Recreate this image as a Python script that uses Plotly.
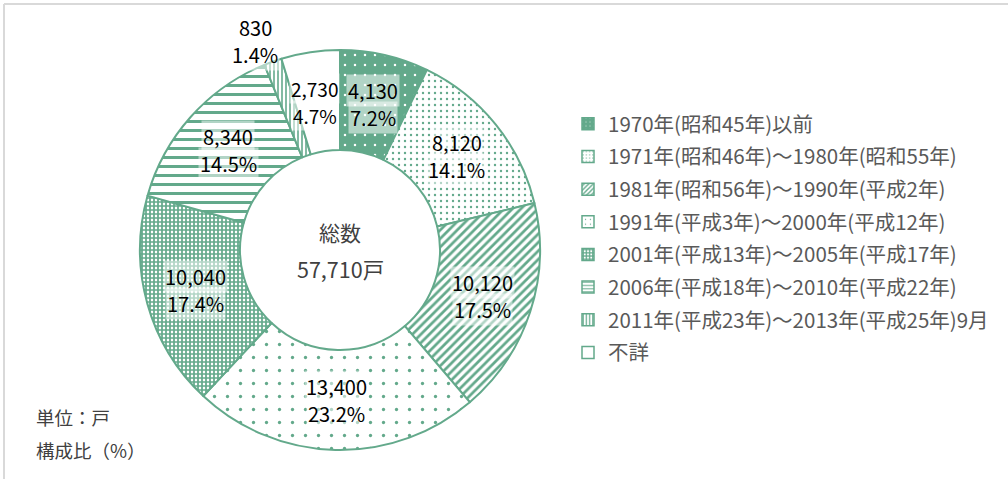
import math
import plotly.graph_objects as go

# ---- data ----
categories = [
    "1970年(昭和45年)以前",
    "1971年(昭和46年)～1980年(昭和55年)",
    "1981年(昭和56年)～1990年(平成2年)",
    "1991年(平成3年)～2000年(平成12年)",
    "2001年(平成13年)～2005年(平成17年)",
    "2006年(平成18年)～2010年(平成22年)",
    "2011年(平成23年)～2013年(平成25年)9月",
    "不詳",
]
values = [4130, 8120, 10120, 13400, 10040, 8340, 830, 2730]
center_title = "総数"
unit_lines = ["単位：戸", "構成比（%）"]

# ---- styles ----
W, H = 1008, 479
GREEN = "#63a98b"
FONT = "Noto Sans CJK JP"
shapes = [".", ".", "/", ".", "+", "-", "|", ""]
fgs = ["white", GREEN, GREEN, GREEN, GREEN, GREEN, GREEN, GREEN]
bgs = [GREEN, "white", "white", "white", "white", "white", "white", "white"]
sizes = [10, 6, 6, 13, 4, 9, 4, 8]
solid = [0.05, 0.12, 0.45, 0.05, 0.68, 0.33, 0.4, 0.3]
label_r = [150, 150, 150, 150, 150, 150, 222, 150]
label_xshift = [0, 0, 0, 0, 0, 0, -10, -3]
label_size = [20, 20, 20, 20, 20, 20, 20, 19]

CX, CY, R = 340, 250, 200


def px(x):
    return x / W


def py(y):
    return 1 - y / H


fig = go.Figure()
fig.add_trace(go.Pie(
    values=values, labels=categories, sort=False, direction="clockwise",
    rotation=0, hole=0.5, textinfo="none", showlegend=False,
    marker=dict(colors=bgs, line=dict(color=GREEN, width=2),
                pattern=dict(shape=shapes, fgcolor=fgs, bgcolor=bgs,
                             size=sizes, solidity=solid, fillmode="replace")),
    domain=dict(x=[px(CX - R), px(CX + R)], y=[py(CY + R), py(CY - R)]),
))

# legend via placeholder bars (one group each for row spacing)
for i, c in enumerate(categories):
    fig.add_trace(go.Bar(
        x=[None], y=[None], name=c, legendgroup=f"g{i}", showlegend=True,
        marker=dict(color=bgs[i], line=dict(color=GREEN, width=1.5),
                    pattern=dict(shape=shapes[i], fgcolor=fgs[i], bgcolor=bgs[i],
                                 size=max(4, sizes[i] // 2), solidity=solid[i],
                                 fillmode="replace")),
    ))

total = sum(values)
annotations = []
cum = 0
for i, v in enumerate(values):
    mid = (cum + v / 2) / total
    cum += v
    th = 2 * math.pi * mid
    r = label_r[i]
    x = CX + r * math.sin(th)
    y = CY - r * math.cos(th)
    pct = f"{v / total * 100:.1f}%"
    for txt, dy in ((f"{v:,}", -13.5), (pct, 13.5)):
        annotations.append(dict(
            x=px(x), y=py(y + dy), xref="paper", yref="paper", text=txt,
            xanchor="center", yanchor="middle",
            showarrow=False, xshift=label_xshift[i],
            font=dict(family=FONT, size=label_size[i], color="#000000"),
            bgcolor="rgba(255,255,255,0.5)", borderpad=1,
        ))

annotations.append(dict(x=px(CX), y=py(232), xref="paper", yref="paper",
                        text=center_title, showarrow=False,
                        xanchor="center", yanchor="middle",
                        font=dict(family=FONT, size=21, color="#404040")))
annotations.append(dict(x=px(CX), y=py(268), xref="paper", yref="paper",
                        text=f"{total:,}戸", showarrow=False,
                        xanchor="center", yanchor="middle",
                        font=dict(family=FONT, size=21.5, color="#404040")))
for k, t in enumerate(unit_lines):
    annotations.append(dict(x=px(34), y=py(417 + 33 * k), xref="paper", yref="paper",
                            text=t, showarrow=False, xanchor="left", yanchor="middle",
                            font=dict(family=FONT, size=18.5, color="#404040")))

fig.update_layout(
    width=W, height=H, margin=dict(l=0, r=0, t=0, b=0),
    paper_bgcolor="white", plot_bgcolor="white",
    xaxis=dict(visible=False), yaxis=dict(visible=False),
    legend=dict(x=px(568), y=py(104), xanchor="left", yanchor="top",
                font=dict(family=FONT, size=20.5, color="#595959"),
                tracegroupgap=3, bgcolor="rgba(0,0,0,0)"),
    annotations=annotations,
    shapes=[
        dict(type="line", xref="paper", yref="paper", x0=px(4), x1=1, y0=py(4), y1=py(4),
             line=dict(color="#d9d9d9", width=2)),
        dict(type="line", xref="paper", yref="paper", x0=px(4), x1=px(4), y0=py(4), y1=0,
             line=dict(color="#d9d9d9", width=2)),
    ],
)

fig.write_html("out.html")
